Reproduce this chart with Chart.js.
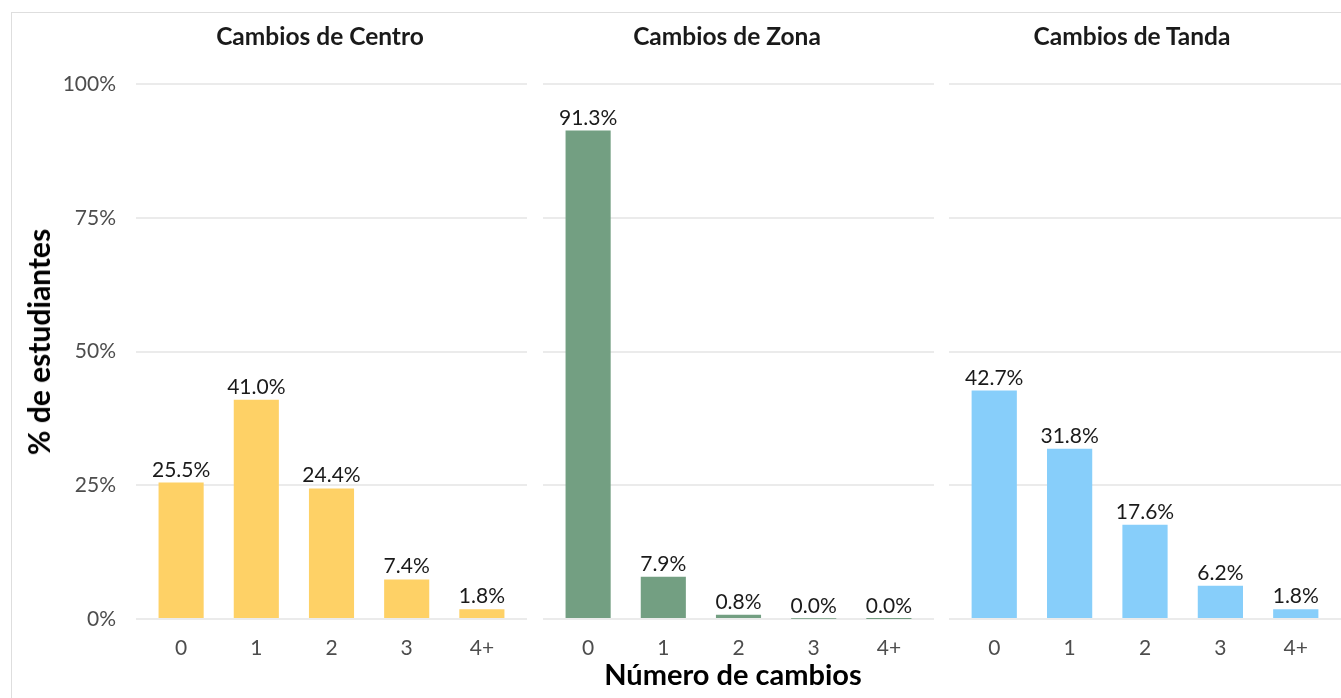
<!DOCTYPE html>
<html>
<head>
<meta charset="utf-8">
<script src="https://cdn.jsdelivr.net/npm/chart.js@4"></script>
<style>
body{margin:0;background:#fff;font-family:Lato,sans-serif;}
#wrap{position:relative;width:1341px;height:698px;overflow:hidden;}
#frame{position:absolute;left:11px;top:12px;width:1400px;height:800px;border:1.5px solid #dedede;box-sizing:border-box;}
canvas{position:absolute;top:0;}
.ptitle{position:absolute;top:35px;font-weight:bold;font-size:24.5px;color:#1a1a1a;transform:translate(-50%,-50%);white-space:nowrap;}
#ytitle{position:absolute;left:38px;top:342px;font-weight:bold;font-size:30px;color:#000;transform:translate(-50%,-50%) rotate(-90deg);white-space:nowrap;}
#xtitle{position:absolute;left:733px;top:673px;font-weight:bold;font-size:29px;color:#000;transform:translate(-50%,-50%);white-space:nowrap;}
</style>
</head>
<body>
<div id="wrap">
<div id="frame"></div>
<canvas id="c1" width="527" height="660" style="left:0px;width:527px;height:660px"></canvas>
<canvas id="c2" width="391" height="660" style="left:543px;width:391px;height:660px"></canvas>
<canvas id="c3" width="392" height="660" style="left:949px;width:392px;height:660px"></canvas>
<div class="ptitle" style="left:320px">Cambios de Centro</div>
<div class="ptitle" style="left:727px">Cambios de Zona</div>
<div class="ptitle" style="left:1132px">Cambios de Tanda</div>
<div id="ytitle">% de estudiantes</div>
<div id="xtitle">Número de cambios</div>
</div>

<script>
// =============================
// DATA
// =============================
const categories = ["0","1","2","3","4+"]
const centro = [25.5, 41.0, 24.4, 7.4, 1.8]
const zona = [91.3, 7.9, 0.8, 0.04, 0.01]
const tanda = [42.7, 31.8, 17.6, 6.2, 1.8]
const yTicks = [0, 25, 50, 75, 100]

Chart.defaults.font.family = "Lato"
Chart.defaults.animation = false

// value labels above bars
const barLabels = {
id:"barLabels",
afterDatasetsDraw(chart){
let ctx = chart.ctx
let meta = chart.getDatasetMeta(0)
let vals = chart.data.datasets[0].data
ctx.save()
ctx.font = "21px Lato"
ctx.fillStyle = "#1a1a1a"
ctx.textAlign = "center"
ctx.textBaseline = "alphabetic"
meta.data.forEach((bar,i)=>{
ctx.fillText(vals[i].y.toFixed(1) + "%", bar.x, bar.y - 6)
})
ctx.restore()
}
}

function makePanel(id, values, color, showY){

let pts = values.map((v,i)=>({x:i+1, y:v}))

new Chart(document.getElementById(id),{
type:"bar",
data:{
datasets:[{
data:pts,
backgroundColor:color,
categoryPercentage:1,
barPercentage:0.6
}]
},
options:{
responsive:false,
layout:{padding:{top:84,left:0,right:0,bottom:0}},
plugins:{legend:{display:false},tooltip:{enabled:false}},
scales:{
x:{
type:"linear",
min:0.4,
max:5.6,
offset:false,
afterBuildTicks:axis=>{ axis.ticks = categories.map((c,i)=>({value:i+1})) },
afterFit:axis=>{ axis.height = 41 },
grid:{display:false},
border:{display:false},
ticks:{
color:"#4d4d4d",
font:{size:21},
padding:9,
callback:v=>categories[v-1]
}
},
y:{
min:0,
max:100,
afterBuildTicks:axis=>{ axis.ticks = yTicks.map(v=>({value:v})) },
afterFit:axis=>{ axis.width = showY ? 136 : 0 },
border:{display:false},
grid:{color:"#ebebeb",lineWidth:2,drawTicks:false},
ticks:{
display:showY,
color:"#4d4d4d",
font:{size:21},
padding:20,
callback:v=>v + "%"
}
}
}
},
plugins:[barLabels]
})

}

makePanel("c1", centro, "#FED166", true)
makePanel("c2", zona, "#739F82", false)
makePanel("c3", tanda, "#87CEFA", false)
</script>
</body>
</html>
